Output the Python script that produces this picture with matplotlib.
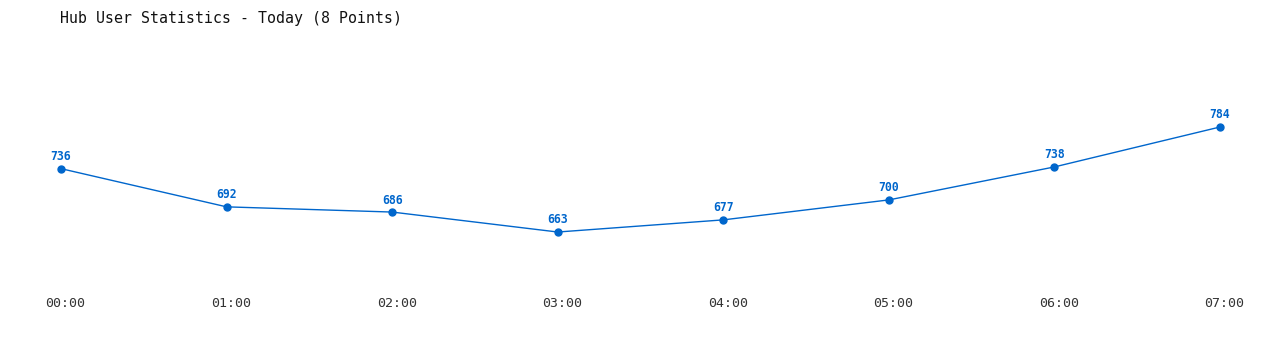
import numpy as np
import matplotlib
matplotlib.use("Agg")
import matplotlib.pyplot as plt
from matplotlib.transforms import blended_transform_factory, offset_copy

# data
hours = ["00:00", "01:00", "02:00", "03:00", "04:00", "05:00", "06:00", "07:00"]
users = [736, 692, 686, 663, 677, 700, 738, 784]

BLUE = "#0066cc"
MONO = ["DejaVu Sans Mono"]

fig = plt.figure(figsize=(12.8, 3.5), dpi=100)
ax = fig.add_axes([0.04766, 0.1714, 0.9055, 0.7143])

x = np.arange(len(hours))
ax.plot(x, users, color=BLUE, linewidth=1, marker="o", markersize=5, clip_on=False)

for xi, v in zip(x, users):
    ax.annotate(str(v), (xi, v), xytext=(0, 4), textcoords="offset points",
                ha="center", va="bottom", fontsize=8.3, fontweight="bold",
                color=BLUE, family=MONO)

ax.set_xlim(0, len(hours) - 1)
ax.set_ylim(596.2, 884.2)
ax.set_xticks([])
ax.set_yticks([])
for s in ax.spines.values():
    s.set_visible(False)

# hour labels, drawn as text a few pixels right of each point like the original
trans = blended_transform_factory(ax.transData, ax.transAxes)
trans = offset_copy(trans, fig=fig, x=4.5, y=-13, units="dots")
for xi, h in zip(x, hours):
    ax.text(xi, 0, h, transform=trans, ha="center", va="center",
            family=MONO, fontsize=9.5, color="#333333", clip_on=False)

fig.text(60 / 1280, 1 - 18 / 350, "Hub User Statistics - Today (8 Points)",
         ha="left", va="center", fontsize=10.7, family=MONO, color="#111111")

fig.savefig("out.png", dpi=100)
